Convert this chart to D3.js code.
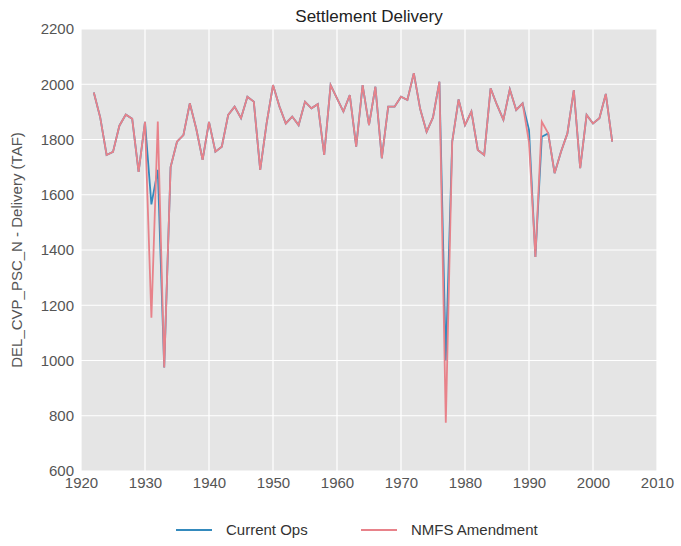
<!DOCTYPE html>
<html><head><meta charset="utf-8">
<script src="https://cdn.jsdelivr.net/npm/d3@7"></script>
<style>body{margin:0;background:#fff}svg{display:block}text{font-family:"Liberation Sans",Arial,sans-serif}</style>
</head><body>
<svg id="c" width="681" height="546"></svg>
<script>
const years = d3.range(1922, 2004);
const nmfs = [1970,1880,1744,1755,1850,1890,1875,1683,1864,1155,1865,975,1700,1792,1816,1931,1840,1726,1864,1756,
  1774,1889,1919,1877,1955,1937,1690,1858,1997,1920,1858,1883,1852,1937,1913,1928,1744,1997,1949,1901,
  1961,1774,1997,1852,1991,1732,1919,1919,1955,1943,2040,1910,1828,1880,2009,775,1792,1945,1852,1901,
  1762,1744,1985,1925,1871,1982,1907,1931,1790,1375,1864,1822,1678,1756,1822,1979,1696,1889,1858,1877,
  1965,1792];
const currentOps = nmfs.slice();
currentOps[1931-1922] = 1565;
currentOps[1932-1922] = 1690;
currentOps[1977-1922] = 1000;
currentOps[1990-1922] = 1835;
currentOps[1992-1922] = 1810;
const xTicks = [1920,1930,1940,1950,1960,1970,1980,1990,2000,2010];
const yTicks = [600,800,1000,1200,1400,1600,1800,2000,2200];
const seriesNames = ["Current Ops","NMFS Amendment"];
const colors = ["#348ABD","#E8828A"];

const svg = d3.select("#c");
const L=81,R=657,T=29,B=471;
const x = d3.scaleLinear().domain([1920,2010]).range([L,R]);
const y = d3.scaleLinear().domain([600,2200]).range([B,T]);

svg.append("rect").attr("x",L).attr("y",T).attr("width",R-L).attr("height",B-T).attr("fill","#E5E5E5");
svg.append("g").selectAll("line").data(xTicks).join("line")
  .attr("x1",d=>x(d)).attr("x2",d=>x(d)).attr("y1",T).attr("y2",B).attr("stroke","#fff").attr("stroke-width",1.2);
svg.append("g").selectAll("line").data(yTicks).join("line")
  .attr("y1",d=>y(d)).attr("y2",d=>y(d)).attr("x1",L).attr("x2",R).attr("stroke","#fff").attr("stroke-width",1.2);

const gx = svg.append("g").attr("transform",`translate(0,${B})`)
  .call(d3.axisBottom(x).tickValues(xTicks).tickFormat(d3.format("d")).tickSize(0).tickPadding(6));
const gy = svg.append("g").attr("transform",`translate(${L},0)`)
  .call(d3.axisLeft(y).tickValues(yTicks).tickFormat(d3.format("d")).tickSize(0).tickPadding(7));
[gx,gy].forEach(g=>{g.select(".domain").remove();g.selectAll("text").attr("font-size",15).attr("fill","#555").attr("font-family","Liberation Sans, Arial, sans-serif");});

const line = d3.line().x((d,i)=>x(years[i])).y(d=>y(d));
svg.append("path").datum(currentOps).attr("d",line).attr("fill","none").attr("stroke",colors[0]).attr("stroke-width",1.8);
svg.append("path").datum(nmfs).attr("d",line).attr("fill","none").attr("stroke",colors[1]).attr("stroke-width",1.8);

svg.append("text").attr("x",(L+R)/2).attr("y",22).attr("text-anchor","middle").attr("font-size",17).attr("fill","#222").text("Settlement Delivery");
svg.append("text").attr("transform",`translate(22,${(T+B)/2}) rotate(-90)`).attr("text-anchor","middle").attr("font-size",15).attr("fill","#555").text("DEL_CVP_PSC_N - Delivery (TAF)");

const lg = svg.append("g");
const lx = [176,361];
seriesNames.forEach((n,i)=>{
  lg.append("line").attr("x1",lx[i]).attr("x2",lx[i]+36).attr("y1",530).attr("y2",530).attr("stroke",colors[i]).attr("stroke-width",2);
  lg.append("text").attr("x",lx[i]+50).attr("y",535).attr("font-size",15).attr("fill","#333").text(n);
});
</script>
</body></html>
